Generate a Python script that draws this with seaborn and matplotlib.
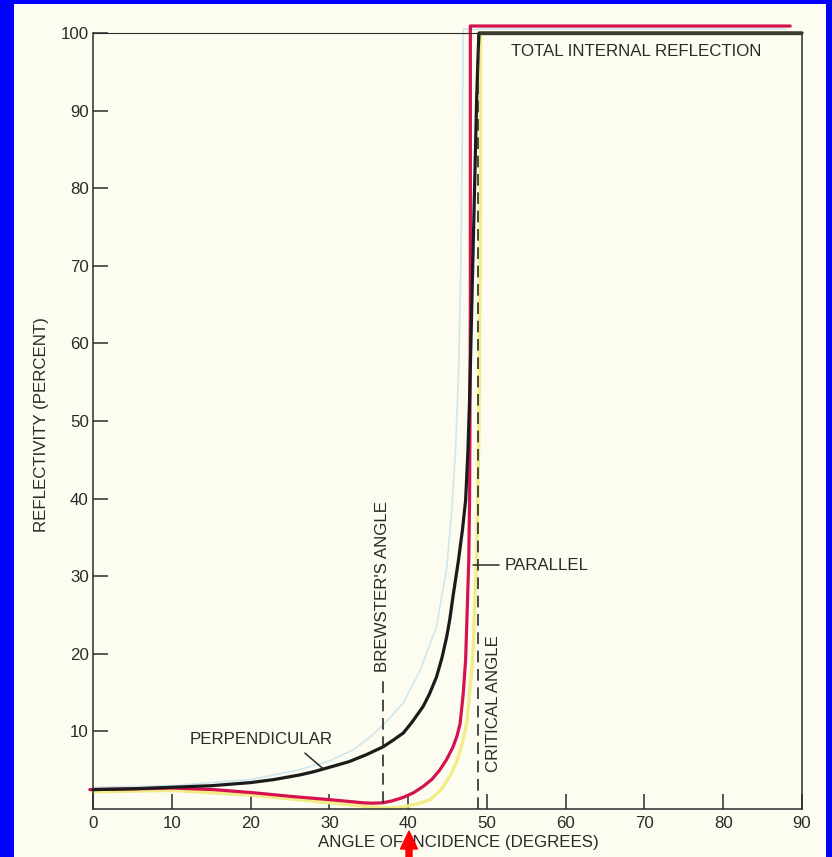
import matplotlib
matplotlib.use("Agg")

import matplotlib.pyplot as plt
import seaborn as sns
import pandas as pd
from matplotlib.patches import Rectangle, FancyArrow

# ---------------------------------------------------------------------------
# Data (angle in degrees, reflectivity in percent)
# ---------------------------------------------------------------------------
angle_perp = [0, 5, 10, 15, 20, 23, 26.3, 28, 30.1, 32.5, 34.7, 36.8, 38, 39.4,
              40.5, 41.9, 42.7, 43.6, 44.3, 44.9, 45.3, 45.7, 46.4, 46.9, 47.3,
              47.6, 47.8, 48.1, 48.4, 48.7, 48.9, 49.0, 90]
perp = [2.5, 2.6, 2.8, 3.0, 3.4, 3.8, 4.4, 4.8, 5.4, 6.1, 7.0, 8.0, 8.8, 9.8,
        11.2, 13.2, 14.8, 17.0, 19.5, 22.2, 24.5, 27.4, 32.1, 36.0, 39.8,
        46.3, 52.7, 65.6, 78.5, 91.4, 97.8, 100, 100]

angle_par = [-0.4, 5, 10.2, 15.3, 20.3, 25.4, 30.1, 32.2, 34.3, 35.5, 36.8, 38,
             39.4, 40.7, 41.9, 43.0, 44.0, 44.9, 45.7, 46.2, 46.6, 47.0, 47.3,
             47.5, 47.7, 47.8, 47.85, 47.9, 47.9, 88.5]
par = [2.5, 2.6, 2.7, 2.5, 2.1, 1.6, 1.2, 1.0, 0.8, 0.75, 0.8, 1.05,
       1.5, 2.1, 2.9, 3.8, 5.0, 6.4, 8.0, 9.4, 11.0, 14.9, 19.2,
       25.6, 32.1, 39.8, 50.0, 65.0, 100.9, 100.9]

angle_yel = [0, 10, 20, 30, 35, 37.5, 38.8, 39.8, 41.3, 42.8, 44.1, 45.3, 46.2,
             47.0, 47.5, 47.8, 48.1, 48.3, 48.5, 48.7, 48.85, 49.0, 49.1, 49.2,
             49.2, 89]
yel = [2.2, 2.4, 1.8, 0.8, 0.3, 0.15, 0.2, 0.35, 0.7, 1.2, 2.4, 4.2, 6.2,
       8.9, 11.5, 14.9, 18.0, 21.4, 27.8, 32.1, 40.0, 50.0, 65.0, 80.0,
       100, 100]

angle_blue = [0, 10, 20, 26, 30, 33, 35.1, 37.2, 39.4, 41.5, 43.6, 44.9, 45.5,
              46.0, 46.4, 46.7, 46.9, 47.0, 88]
blue = [2.8, 3.0, 3.8, 5.0, 6.2, 7.6, 9.2, 11.2, 13.7, 17.8, 23.5, 31.0, 38.0,
        46.0, 56.0, 70.0, 88.0, 100.5, 100.5]

brewster_angle = 36.8
critical_angle = 48.9
x_ticks = [0, 10, 20, 30, 40, 50, 60, 70, 80, 90]
y_ticks = [10, 20, 30, 40, 50, 60, 70, 80, 90, 100]

# ---------------------------------------------------------------------------
# Style
# ---------------------------------------------------------------------------
PAPER = "#fdfcf1"
INK = "#2a2a2a"

sns.set_theme(style="ticks")
plt.rcParams["font.family"] = ["Liberation Sans", "DejaVu Sans"]
plt.rcParams["text.color"] = INK

fig = plt.figure(figsize=(8.32, 8.57), dpi=100)
fig.patch.set_facecolor("#0000ff")
fig.add_artist(Rectangle((14 / 832, 0), (826 - 14) / 832, (857 - 4) / 857,
                         transform=fig.transFigure, facecolor=PAPER,
                         edgecolor="none", zorder=-1))

ax = fig.add_axes([93 / 832, 48 / 857, (802 - 93) / 832, (809 - 33) / 857])
ax.set_facecolor(PAPER)

curves = [
    (angle_blue, blue, "#cfe8ee", 1.2),
    (angle_yel, yel, "#f1ec86", 2.4),
    (angle_par, par, "#d4124f", 2.3),
    (angle_perp, perp, "#1b1b1b", 2.3),
]
for xs, ys, color, lw in curves:
    df = pd.DataFrame({"angle": xs, "refl": ys})
    sns.lineplot(data=df, x="angle", y="refl", ax=ax, color=color, linewidth=lw,
                 sort=False, estimator=None)
for line in ax.lines:
    line.set_clip_on(False)
    line.set_solid_joinstyle("round")

# heavy box edge across the total-internal-reflection region
ax.plot([49.0, 90], [100, 100], color="#3a3a2e", lw=2.4, clip_on=False,
        solid_capstyle="butt", zorder=3)

# dashed reference lines
ax.plot([brewster_angle, brewster_angle], [0.8, 17.3], color=INK, lw=1.2,
        dashes=(7, 4), zorder=4)
ax.plot([critical_angle, critical_angle], [0, 100], color=INK, lw=1.2,
        dashes=(7, 4), zorder=4, clip_on=False)

# annotations
fs = 12.2
ax.text(brewster_angle, 17.6, "BREWSTER'S ANGLE", rotation=90, ha="center",
        va="bottom", fontsize=fs, color=INK)
ax.text(50.8, 4.8, "CRITICAL ANGLE", rotation=90, ha="center", va="bottom",
        fontsize=fs, color=INK)
ax.text(52.3, 31.4, "PARALLEL", ha="left", va="center", fontsize=fs, color=INK)
ax.plot([48.2, 51.5], [31.4, 31.4], color=INK, lw=1.1)
ax.text(21.4, 8.9, "PERPENDICULAR", ha="center", va="center", fontsize=fs,
        color=INK)
ax.plot([26.9, 29.2], [7.2, 5.2], color=INK, lw=1.1)
ax.text(53.0, 97.6, "TOTAL INTERNAL REFLECTION", ha="left", va="center",
        fontsize=fs, color=INK)

# axes
ax.set_xlim(0, 90)
ax.set_ylim(0, 100)
ax.set_xticks(x_ticks)
ax.set_yticks(y_ticks)
ax.tick_params(direction="in", length=10.8, width=1.1, colors=INK,
               labelsize=fs, pad=5)
ax.tick_params(axis="y", pad=3)
for side in ["left", "bottom", "right"]:
    ax.spines[side].set_linewidth(1.1)
    ax.spines[side].set_color(INK)
ax.spines["top"].set_linewidth(0.8)
ax.spines["top"].set_color(INK)

ax.set_xlabel("ANGLE OF INCIDENCE (DEGREES)", fontsize=fs, color=INK)
ax.xaxis.set_label_coords(0.516, -0.033)
ax.set_ylabel("REFLECTIVITY (PERCENT)", fontsize=fs, color=INK)
ax.yaxis.set_label_coords(-0.062, 0.495)

# red pointer under the 40 degree tick
fig.add_artist(FancyArrow(409 / 832, 0, 0, 26 / 857, width=6 / 832,
                          head_width=17 / 832, head_length=18 / 857,
                          length_includes_head=True, color="#ff0000",
                          transform=fig.transFigure, zorder=5))

fig.savefig("out.png", dpi=100, facecolor=fig.get_facecolor())
